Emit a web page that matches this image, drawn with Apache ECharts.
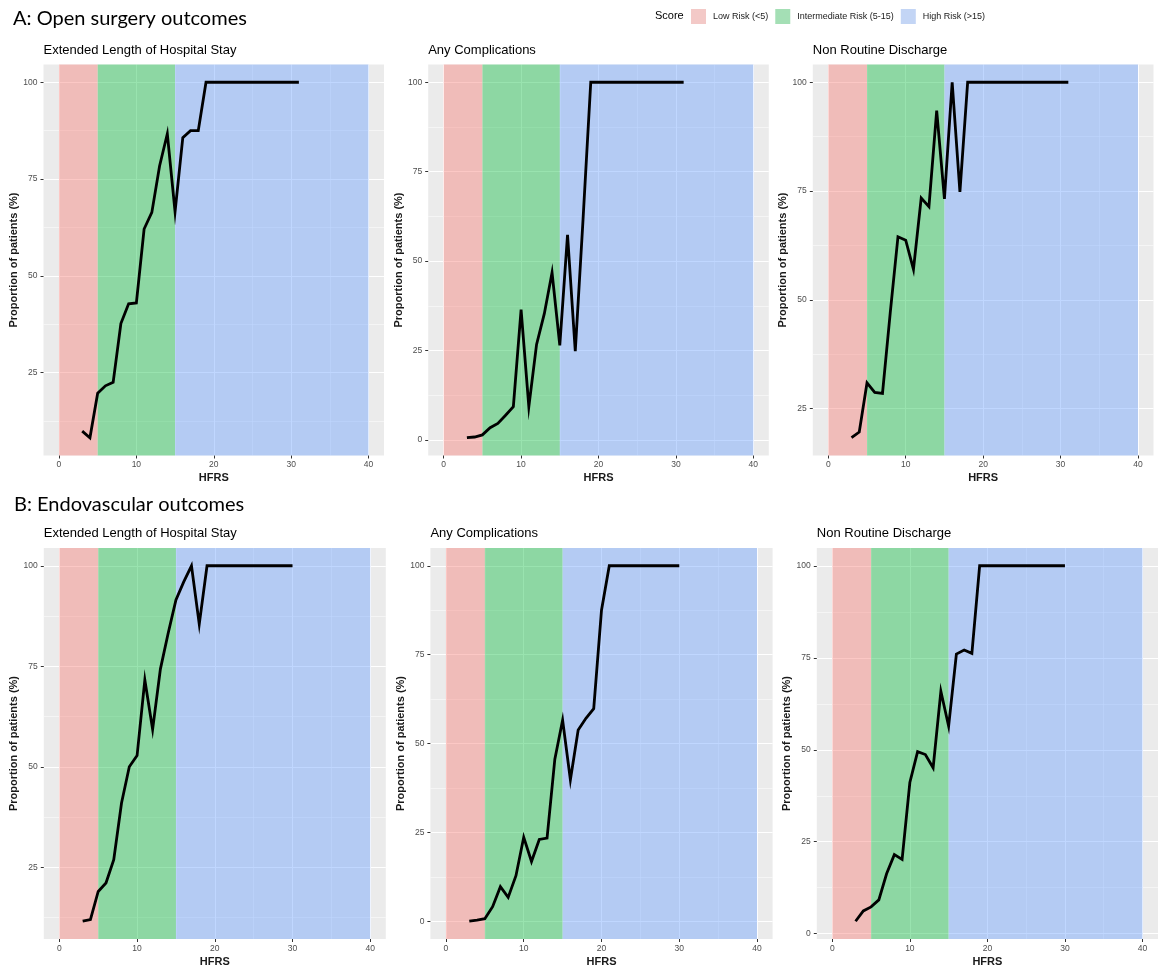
<!DOCTYPE html>
<html>
<head>
<meta charset="utf-8">
<script src="https://cdn.jsdelivr.net/npm/echarts@6/dist/echarts.min.js"></script>
<style>
html,body{margin:0;padding:0;background:#ffffff;}
#chart{width:1158px;height:973px;}
</style>
</head>
<body>
<div id="chart"></div>
<script>
// ---------------- data ----------------
const hfrsOpen = [3,4,5,6,7,8,9,10,11,12,13,14,15,16,17,18,19,20,21,22,23,24,25,26,27,28,29,30,31];
const hfrsEndo = [3,4,5,6,7,8,9,10,11,12,13,14,15,16,17,18,19,20,21,22,23,24,25,26,27,28,29,30];

const openLOS  = [9.9,8.2,19.7,21.6,22.5,37.7,42.8,43.0,62.1,66.4,78.4,86.7,66.6,85.7,87.5,87.5,100,100,100,100,100,100,100,100,100,100,100,100,100];
const openComp = [0.6,0.8,1.4,3.4,4.6,6.9,9.3,36.4,9.3,26.7,35.3,46.8,26.4,57.3,24.8,61.5,100,100,100,100,100,100,100,100,100,100,100,100,100];
const openNRD  = [18.3,19.6,30.9,28.7,28.5,47.0,64.5,63.7,57.0,73.4,71.4,93.5,73.2,100,74.8,100,100,100,100,100,100,100,100,100,100,100,100,100,100];

const endoLOS  = [11.6,12.0,19.0,21.1,26.9,41.0,50.0,52.8,71.6,59.3,74.3,83.2,91.5,96.0,100,85.5,100,100,100,100,100,100,100,100,100,100,100,100];
const endoComp = [0.0,0.3,0.7,4.1,9.7,6.7,12.8,23.6,16.8,23.0,23.4,45.6,56.6,39.8,53.8,57.1,59.8,87.5,100,100,100,100,100,100,100,100,100,100];
const endoNRD  = [3.4,6.2,7.3,9.2,16.3,21.5,20.2,41.1,49.5,48.7,45.1,65.9,56.4,76.0,77.1,76.2,100,100,100,100,100,100,100,100,100,100,100,100];

const bandLabels = ['Low Risk (<5)', 'Intermediate Risk (5-15)', 'High Risk (>15)'];
const bandEdges = [0, 5, 15, 40];

const xTickValues = [0, 10, 20, 30, 40];
const xMinorValues = [5, 15, 25, 35];
const yTickValues = [0, 25, 50, 75, 100];
const yMinorValues = [12.5, 37.5, 62.5, 87.5];

const panelTitles = ['Extended Length of Hospital Stay', 'Any Complications', 'Non Routine Discharge'];
const sectionTitles = ['A: Open surgery outcomes', 'B: Endovascular outcomes'];
const xAxisTitle = 'HFRS';
const yAxisTitle = 'Proportion of patients (%)';
const legendTitle = 'Score';

// ---------------- styling / layout ----------------
const bandFill = ['rgba(248,118,109,0.4)', 'rgba(0,186,56,0.4)', 'rgba(97,156,255,0.4)'];
const bandKey  = ['#F0BCB9', '#8DD7A3', '#B4CBF3'];

const panelData = [
  {x: hfrsOpen, y: openLOS}, {x: hfrsOpen, y: openComp}, {x: hfrsOpen, y: openNRD},
  {x: hfrsEndo, y: endoLOS}, {x: hfrsEndo, y: endoComp}, {x: hfrsEndo, y: endoNRD}
];
const layout = [
  {left: 43.5, top: 64.5, width: 340.5}, {left: 428.2, top: 64.5, width: 340.6}, {left: 812.8, top: 64.5, width: 340.7},
  {left: 43.8, top: 548, width: 342.0}, {left: 430.4, top: 548, width: 342.2}, {left: 816.8, top: 548, width: 342.0}
];
const panelHeight = 391;
const FONT = '"Liberation Sans", Arial, sans-serif';
const TITLE_FONT = '20px Lato, "Open Sans", sans-serif';

function yRange(v) {
  const lo = Math.min(...v), hi = Math.max(...v), pad = (hi - lo) * 0.05;
  return [lo - pad, hi + pad];
}

const grids = [], xAxes = [], yAxes = [], series = [], graphics = [];

panelData.forEach((p, i) => {
  const L = layout[i];
  grids.push({left: L.left, top: L.top, width: L.width, height: panelHeight,
    show: true, backgroundColor: '#EBEBEB', borderWidth: 0, containLabel: false});
  const [ymin, ymax] = yRange(p.y);
  const yMaj = yTickValues.filter(v => v >= ymin && v <= ymax);
  const yMin = yMinorValues.filter(v => v >= ymin && v <= ymax);

  // major x axis
  xAxes.push({
    gridIndex: i, type: 'value', position: 'bottom', min: -2, max: 42,
    axisLine: {show: false, onZero: false},
    axisTick: {show: true, length: 3, lineStyle: {color: '#333333', width: 1}, customValues: xTickValues},
    axisLabel: {show: true, customValues: xTickValues, color: '#4D4D4D', fontSize: 8.5, margin: 5, fontFamily: FONT},
    splitLine: {show: true, lineStyle: {color: '#FFFFFF', width: 1}},
    name: xAxisTitle, nameLocation: 'middle', nameGap: 17,
    nameTextStyle: {fontSize: 11, fontWeight: 'bold', color: '#1A1A1A', fontFamily: FONT}
  });
  // minor x grid
  xAxes.push({
    gridIndex: i, type: 'value', position: 'bottom', min: -2, max: 42,
    axisLine: {show: false, onZero: false},
    axisTick: {show: false, customValues: xMinorValues},
    axisLabel: {show: false, customValues: xMinorValues},
    splitLine: {show: true, lineStyle: {color: '#FFFFFF', width: 0.5}}
  });
  // major y axis
  yAxes.push({
    gridIndex: i, type: 'value', position: 'left', min: ymin, max: ymax,
    axisLine: {show: false, onZero: false},
    axisTick: {show: true, length: 3, lineStyle: {color: '#333333', width: 1}, customValues: yMaj},
    axisLabel: {show: true, customValues: yMaj, color: '#4D4D4D', fontSize: 8.5, margin: 6, fontFamily: FONT},
    splitLine: {show: true, lineStyle: {color: '#FFFFFF', width: 1}},
    name: yAxisTitle, nameLocation: 'middle', nameGap: 22,
    nameTextStyle: {fontSize: 11, fontWeight: 'bold', color: '#1A1A1A', fontFamily: FONT}
  });
  // minor y grid
  yAxes.push({
    gridIndex: i, type: 'value', position: 'left', min: ymin, max: ymax,
    axisLine: {show: false, onZero: false},
    axisTick: {show: false, customValues: yMin},
    axisLabel: {show: false, customValues: yMin},
    splitLine: {show: true, lineStyle: {color: '#FFFFFF', width: 0.5}}
  });

  // risk bands
  bandLabels.forEach((name, k) => {
    series.push({
      name: name, type: 'scatter', xAxisIndex: 2 * i, yAxisIndex: 2 * i,
      data: [], color: bandKey[k], z: 1, silent: true,
      markArea: {
        silent: true, z: 1,
        itemStyle: {color: bandFill[k], borderWidth: 0},
        data: [[{xAxis: bandEdges[k]}, {xAxis: bandEdges[k + 1]}]]
      }
    });
  });

  // outcome line
  series.push({
    name: 'outcome' + i, type: 'line', xAxisIndex: 2 * i, yAxisIndex: 2 * i,
    data: p.x.map((x, j) => [x, p.y[j]]),
    showSymbol: false, symbol: 'none', z: 10, silent: true,
    lineStyle: {color: '#000000', width: 2.8, cap: 'butt', join: 'miter'}
  });

  // panel subtitle
  graphics.push({
    type: 'text', left: L.left, top: L.top - 21,
    style: {text: panelTitles[i % 3], font: '13px ' + FONT, fill: '#000000'}
  });
});

// section titles
graphics.push({type: 'text', left: 13, top: 9, style: {text: sectionTitles[0], font: TITLE_FONT, fill: '#000000'}});
graphics.push({type: 'text', left: 14, top: 495, style: {text: sectionTitles[1], font: TITLE_FONT, fill: '#000000'}});
// legend title
graphics.push({type: 'text', left: 655, top: 10, style: {text: legendTitle, font: '11px ' + FONT, fill: '#000000'}});

const option = {
  animation: false,
  backgroundColor: '#FFFFFF',
  textStyle: {fontFamily: FONT},
  grid: grids,
  xAxis: xAxes,
  yAxis: yAxes,
  legend: {
    data: bandLabels, left: 691, top: 9, padding: 0, icon: 'rect',
    itemWidth: 15, itemHeight: 15, itemGap: 7, selectedMode: false,
    textStyle: {fontSize: 9, color: '#1A1A1A', fontFamily: FONT, padding: [0, 0, 0, 2]}
  },
  graphic: graphics,
  series: series
};

const chart = echarts.init(document.getElementById('chart'), null, {renderer: 'canvas'});
chart.setOption(option);
</script>
</body>
</html>
